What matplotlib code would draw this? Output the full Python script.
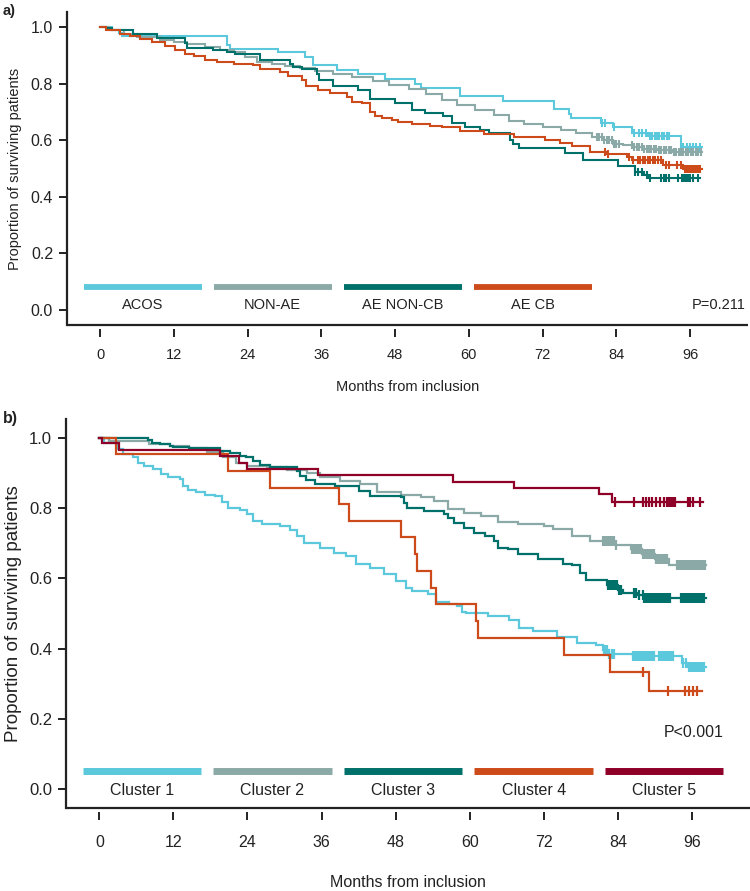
import numpy as np
import matplotlib
matplotlib.use("Agg")
import matplotlib.pyplot as plt
from matplotlib import font_manager

plt.rcParams['font.family'] = ['Liberation Sans', 'DejaVu Sans']

# ---------------- panel a) ----------------
a_labels = ["ACOS", "NON-AE", "AE NON-CB", "AE CB"]
a_colors = ["#5bc8dc", "#8ba9a6", "#00706a", "#cd4b1b"]

acos_t = [0, 2, 3, 3.5, 20.6, 21.2, 29, 33.4, 34.7, 38.5, 42, 46.4, 51.2, 52.2, 58.5, 65.6,
          73.8, 76.2, 76.6, 81.5, 83.5, 86.5, 89.2, 94.5]
acos_s = [1.0, 0.99, 0.98, 0.97, 0.935, 0.922, 0.91, 0.895, 0.865, 0.847, 0.833, 0.815, 0.80,
          0.785, 0.757, 0.74, 0.71, 0.694, 0.68, 0.662, 0.645, 0.624, 0.614, 0.575]
acos_end = 97.9
acos_cens = [81.6, 82.2, 83.6, 86.8, 87.6, 88.2, 88.8, 89.4, 89.8, 90.2, 90.6, 91.0, 91.4,
             91.8, 92.2, 92.6, 94.8, 95.4, 96.0, 96.5, 97.0, 97.6]

nonae_t = [0, 1.5, 3.8, 6, 9.8, 12, 14.1, 17, 19.5, 21.7, 23.5, 25.5, 28, 30, 32.5, 35, 37.9,
           41, 44.4, 47, 50.2, 53, 55.6, 58, 61, 64, 66.5, 69, 72, 75, 77.5, 80, 82, 83.5, 85,
           86.8, 88.5, 90.6, 93]
nonae_s = [1.0, 0.99, 0.975, 0.965, 0.955, 0.948, 0.941, 0.93, 0.92, 0.912, 0.895, 0.877,
           0.868, 0.862, 0.855, 0.845, 0.835, 0.822, 0.808, 0.795, 0.78, 0.762, 0.743, 0.725,
           0.706, 0.688, 0.668, 0.658, 0.647, 0.637, 0.626, 0.612, 0.6, 0.588, 0.582, 0.577,
           0.57, 0.565, 0.56]
nonae_end = 98.0
nonae_cens = [80.8, 81.2, 81.6, 82.0, 82.4, 82.8, 83.2, 83.6, 84.0, 84.4, 86.5, 86.9, 87.3,
              87.7, 88.1, 88.5, 88.9, 89.3, 89.7, 90.1, 90.5, 90.9, 91.3, 91.7, 92.1, 92.5,
              92.9, 93.3, 93.7, 94.1, 94.5, 94.9, 95.3, 95.7, 96.1, 96.5, 96.9, 97.3, 97.7]

aencb_t = [0, 1, 2, 5.4, 9.2, 13.8, 14.2, 18.4, 20.6, 22, 26, 30.9, 31.3, 32.8, 35.3, 35.6,
           37.9, 42, 43.9, 48, 50.7, 52.9, 55.8, 57.3, 59.4, 61.8, 63.2, 66.7, 67.2, 68.1,
           75.7, 78.6, 84.3, 87, 88.5, 89.2]
aencb_s = [1.0, 0.995, 0.988, 0.976, 0.962, 0.944, 0.927, 0.92, 0.912, 0.905, 0.882, 0.871,
           0.859, 0.853, 0.833, 0.812, 0.791, 0.777, 0.747, 0.73, 0.708, 0.697, 0.684, 0.661,
           0.645, 0.635, 0.624, 0.60, 0.588, 0.574, 0.555, 0.529, 0.509, 0.488, 0.477, 0.465]
aencb_end = 97.6
aencb_cens = [87.0, 87.5, 88.1, 88.9, 89.5, 91.3, 91.7, 92.1, 92.5, 94.0, 94.6, 95.0, 95.3,
              95.6, 96.0, 96.4, 97.3]

aecb_t = [0, 1, 3.3, 4.8, 6.5, 8.5, 10.6, 12.2, 13.8, 15.2, 17.1, 19, 21.7, 24.9, 26, 29.3,
          30.6, 32.8, 33.5, 35.5, 37.4, 40.1, 40.9, 42.6, 43.9, 44.7, 45.8, 47.5, 48.5, 50.7,
          53.7, 55.6, 58.6, 62.4, 67.3, 72.4, 74.8, 76.7, 79.7, 82.4, 85.7, 86.5, 91.6, 94.9]
aecb_s = [1.0, 0.99, 0.976, 0.967, 0.959, 0.947, 0.932, 0.918, 0.906, 0.897, 0.885, 0.877,
          0.868, 0.865, 0.853, 0.841, 0.826, 0.812, 0.79, 0.779, 0.768, 0.753, 0.735, 0.73,
          0.70, 0.685, 0.677, 0.671, 0.665, 0.657, 0.649, 0.645, 0.633, 0.621, 0.61, 0.60,
          0.591, 0.579, 0.56, 0.553, 0.541, 0.53, 0.512, 0.497]
aecb_end = 98.0
aecb_cens = [82.1, 82.6, 86.1, 86.7, 87.5, 87.9, 88.3, 88.7, 89.1, 89.5, 89.9, 90.2, 90.8,
             91.2, 92.0, 92.5, 93.9, 94.5, 95.2, 95.5, 95.8, 96.1, 96.4, 96.7, 97.0, 97.3, 97.6]

# ---------------- panel b) ----------------
b_labels = ["Cluster 1", "Cluster 2", "Cluster 3", "Cluster 4", "Cluster 5"]
b_colors = ["#5bc8dc", "#8ba9a6", "#00706a", "#cd4b1b", "#8e0027"]

c1_t = [0, 0.8, 3, 3.8, 5.4, 6.2, 7.3, 8.7, 10, 11.1, 13, 13.6, 14.4, 15.7, 17.1, 18.7, 19.8,
        20.9, 22.8, 23.9, 24.9, 26.3, 29.3, 30.9, 32, 33.1, 35.8, 38, 39.9, 41.5, 43.9, 46.1,
        48.0, 49.7, 50.6, 53.2, 54.5, 56.7, 58.0, 58.8, 59.4, 63.0, 66.3, 68.0, 70.3, 74.2,
        77.4, 80.5, 81.6, 82.5, 86.5, 94.4, 95.3]
c1_s = [1.0, 0.986, 0.967, 0.953, 0.945, 0.929, 0.92, 0.91, 0.896, 0.888, 0.882, 0.863, 0.85,
        0.844, 0.837, 0.834, 0.818, 0.801, 0.793, 0.782, 0.763, 0.754, 0.749, 0.737, 0.72,
        0.701, 0.687, 0.673, 0.663, 0.64, 0.63, 0.611, 0.592, 0.573, 0.564, 0.556, 0.533,
        0.528, 0.522, 0.505, 0.50, 0.493, 0.48, 0.46, 0.45, 0.433, 0.416, 0.41, 0.397, 0.385,
        0.378, 0.36, 0.347]
c1_end = 98.2
c1_cens = [81.7, 82.0, 82.3, 82.6, 83.0, 83.4, 86.5, 86.8, 87.1, 87.4, 87.7, 88.0, 88.3, 88.6,
           88.9, 89.2, 89.5, 89.8, 90.6, 90.9, 91.2, 91.5, 91.8, 92.1, 92.4, 92.7, 93.0, 94.6,
           95.0, 95.5, 95.8, 96.1, 96.4, 96.7, 97.0, 97.3, 97.6, 97.9]

c2_t = [0, 1.5, 5, 8.1, 11.4, 14.6, 17.4, 20.1, 22.2, 23.9, 27.1, 30.4, 33.6, 35.8, 39, 42.3,
        45, 48.8, 52.1, 54.2, 56.4, 59.1, 61.8, 64.5, 67.8, 72.1, 73.5, 76.5, 79.5, 83.6,
        86.2, 87.9, 90, 92.2]
c2_s = [1.0, 0.99, 0.989, 0.983, 0.977, 0.97, 0.958, 0.944, 0.929, 0.92, 0.915, 0.907, 0.90,
        0.887, 0.877, 0.868, 0.844, 0.836, 0.832, 0.82, 0.798, 0.787, 0.777, 0.76, 0.754,
        0.749, 0.739, 0.72, 0.705, 0.695, 0.682, 0.668, 0.655, 0.637]
c2_end = 98.2
c2_cens = [81.6, 81.9, 82.2, 82.5, 82.8, 83.1, 83.4, 83.7, 86.3, 86.6, 86.9, 87.2, 87.5, 87.8,
           88.1, 88.4, 88.7, 89.0, 89.3, 89.6, 89.9, 90.2, 90.5, 90.8, 91.1, 91.4, 91.7, 92.0,
           93.6, 93.9, 94.2, 94.5, 94.8, 95.1, 95.4, 95.7, 96.0, 96.3, 96.6, 96.9, 97.2, 97.5,
           97.8, 98.1]

c3_t = [0, 4.3, 7.9, 8.5, 9.8, 11.4, 12, 14.6, 19.5, 21.2, 22.8, 23.8, 24.9, 26, 27.7, 29.3,
        32, 32.5, 33.4, 35, 38.2, 42, 43.9, 48.8, 49.3, 49.9, 52.6, 55.9, 56.4, 57.5, 59.1,
        60.7, 62.4, 64, 64.5, 66.2, 67.8, 71, 75.1, 76.5, 77.8, 78.9, 82.3, 84, 84.9, 87.3,
        88.3]
c3_s = [1.0, 0.998, 0.993, 0.986, 0.981, 0.977, 0.972, 0.969, 0.962, 0.955, 0.948, 0.944,
        0.934, 0.922, 0.917, 0.915, 0.905, 0.891, 0.88, 0.867, 0.863, 0.849, 0.834, 0.83,
        0.815, 0.801, 0.791, 0.782, 0.77, 0.758, 0.744, 0.73, 0.72, 0.706, 0.687, 0.682,
        0.668, 0.654, 0.64, 0.637, 0.616, 0.595, 0.58, 0.566, 0.559, 0.552, 0.545]
c3_end = 98.2
c3_cens = [82.4, 82.7, 83.0, 83.3, 83.6, 83.9, 84.2, 84.5, 86.6, 87.0, 87.4, 88.0, 88.3, 88.6,
           88.9, 89.2, 89.5, 89.8, 90.1, 90.4, 90.7, 91.0, 91.3, 91.6, 91.9, 92.2, 92.5,
           94.3, 94.6, 94.9, 95.2, 95.5, 95.8, 96.1, 96.4, 96.7, 97.0, 97.3, 97.6, 97.9]

c4_t = [0, 2.7, 20.9, 27.6, 38.8, 40.4, 48.8, 51.1, 51.4, 53.7, 54.5, 61.0, 61.4, 75.3, 82.8,
        89.1]
c4_s = [1.0, 0.954, 0.906, 0.858, 0.81, 0.763, 0.716, 0.668, 0.62, 0.573, 0.526, 0.478, 0.43,
        0.381, 0.334, 0.279]
c4_end = 97.6
c4_cens = [88.1, 92.1, 94.9, 95.5, 96.1, 96.8]

c5_t = [0, 0.4, 3.2, 19.6, 22.6, 23.9, 35.5, 57.3, 67.2, 81.0, 83.0]
c5_s = [1.0, 0.984, 0.964, 0.947, 0.929, 0.911, 0.893, 0.875, 0.857, 0.839, 0.818]
c5_end = 97.8
c5_cens = [83.6, 86.6, 88.0, 88.5, 89.0, 89.6, 90.2, 90.8, 91.4, 92.0, 92.3, 92.6, 92.9, 93.2,
           95.3, 95.7, 96.1, 97.3]

month_ticks = [0, 12, 24, 36, 48, 60, 72, 84, 96]
surv_ticks = [0.0, 0.2, 0.4, 0.6, 0.8, 1.0]

INK = "#222222"

# panel b text is set in a narrower face in the original
try:
    font_manager.findfont('Liberation Sans Narrow', fallback_to_default=False)
    B_FAM = ['Liberation Sans Narrow', 'Liberation Sans', 'DejaVu Sans']
    B_FS = 13
except ValueError:
    B_FAM = ['Liberation Sans', 'DejaVu Sans']
    B_FS = 11.5


def km(ax, t, s, end, cens, color, lw, ms):
    """draw one Kaplan-Meier step curve with censoring ticks"""
    tt = list(t) + [end]
    ss = list(s) + [s[-1]]
    ax.step(tt, ss, where='post', color=color, lw=lw, solid_joinstyle='miter')
    idx = np.searchsorted(np.array(t), np.array(cens), side='right') - 1
    ax.plot(cens, np.array(s)[idx], ls='none', marker='|', ms=ms, mew=lw, color=color)


def style_axes(ax, fs_y, fs_x, family, xpad):
    ax.set_xlim(-5.4, 105.4)
    ax.set_ylim(-0.053, 1.053)
    ax.set_xticks(month_ticks)
    ax.set_yticks(surv_ticks)
    ax.set_yticklabels(["%.1f" % v for v in surv_ticks], family=family)
    ax.set_xticklabels([str(m) for m in month_ticks], family=family)
    for sp in ['top', 'right']:
        ax.spines[sp].set_visible(False)
    ax.spines['left'].set_linewidth(1.6)
    ax.spines['left'].set_color(INK)
    # x ticks hang a bit below the axis line
    ax.spines['bottom'].set_position(('outward', 3))
    ax.spines['bottom'].set_visible(False)
    ax.plot([0, 1], [0, 0], transform=ax.transAxes, color=INK, lw=1.6, clip_on=False,
            solid_capstyle='butt')
    ax.tick_params(axis='y', length=6, width=1.4, color=INK, labelsize=fs_y, pad=4,
                   labelcolor=INK)
    ax.tick_params(axis='x', length=5.5, width=1.4, color=INK, labelsize=fs_x, pad=xpad,
                   labelcolor=INK)


def legend_bars(ax, labels, colors, ybar, ytxt, lw, fs, family):
    # colour bars + names along the bottom of the plot
    x0, w, step = -2.7, 19.2, 21.15
    for i, (lab, col) in enumerate(zip(labels, colors)):
        xs = x0 + i * step
        ax.plot([xs, xs + w], [ybar, ybar], color=col, lw=lw, solid_capstyle='butt')
        ax.text(xs + w / 2, ytxt, lab, ha='center', va='center', fontsize=fs, color=INK,
                family=family)


fig = plt.figure(figsize=(7.5, 8.91), dpi=100)
ax1 = fig.add_axes([0.0893, 0.6352, 0.908, 0.3513])
ax2 = fig.add_axes([0.088, 0.0932, 0.912, 0.4366])

A_FAM = ['Liberation Sans', 'DejaVu Sans']

# panel a
km(ax1, acos_t, acos_s, acos_end, acos_cens, a_colors[0], 1.5, 6)
km(ax1, nonae_t, nonae_s, nonae_end, nonae_cens, a_colors[1], 1.5, 6)
km(ax1, aencb_t, aencb_s, aencb_end, aencb_cens, a_colors[2], 1.5, 6)
km(ax1, aecb_t, aecb_s, aecb_end, aecb_cens, a_colors[3], 1.5, 6)
style_axes(ax1, 11.5, 10.5, A_FAM, 8)
legend_bars(ax1, a_labels, a_colors, 0.081, 0.018, 4.2, 10.5, A_FAM)
ax1.text(0.997, 0.018, "P=0.211", transform=ax1.get_yaxis_transform(), ha='right',
         va='center', fontsize=10.5, color=INK)
ax1.set_ylabel("Proportion of surviving patients", fontsize=10.5, color=INK, labelpad=6)
ax1.set_xlabel("Months from inclusion", fontsize=10.5, color=INK, labelpad=13)

# panel b
km(ax2, c1_t, c1_s, c1_end, c1_cens, b_colors[0], 1.6, 7.5)
km(ax2, c2_t, c2_s, c2_end, c2_cens, b_colors[1], 1.6, 7.5)
km(ax2, c3_t, c3_s, c3_end, c3_cens, b_colors[2], 1.6, 7.5)
km(ax2, c4_t, c4_s, c4_end, c4_cens, b_colors[3], 1.6, 7.5)
km(ax2, c5_t, c5_s, c5_end, c5_cens, b_colors[4], 1.6, 7.5)
style_axes(ax2, B_FS + 0.5, B_FS, B_FAM, 11)
legend_bars(ax2, b_labels, b_colors, 0.053, -0.002, 5, B_FS, B_FAM)
ax2.text(101.2, 0.161, "P<0.001", ha='right', va='center', fontsize=B_FS, color=INK,
         family=B_FAM)
ax2.set_ylabel("Proportion of surviving patients", fontsize=13.5, color=INK, labelpad=5)
ax2.set_xlabel("Months from inclusion", fontsize=B_FS, color=INK, labelpad=18, family=B_FAM)

fig.text(0.004, 1 - 11 / 891, "a)", fontsize=10.5, fontweight='bold', va='center', color=INK)
fig.text(0.004, 1 - 418 / 891, "b)", fontsize=11.5, fontweight='bold', va='center', color=INK,
         family=B_FAM)

fig.savefig("out.png", dpi=100)
